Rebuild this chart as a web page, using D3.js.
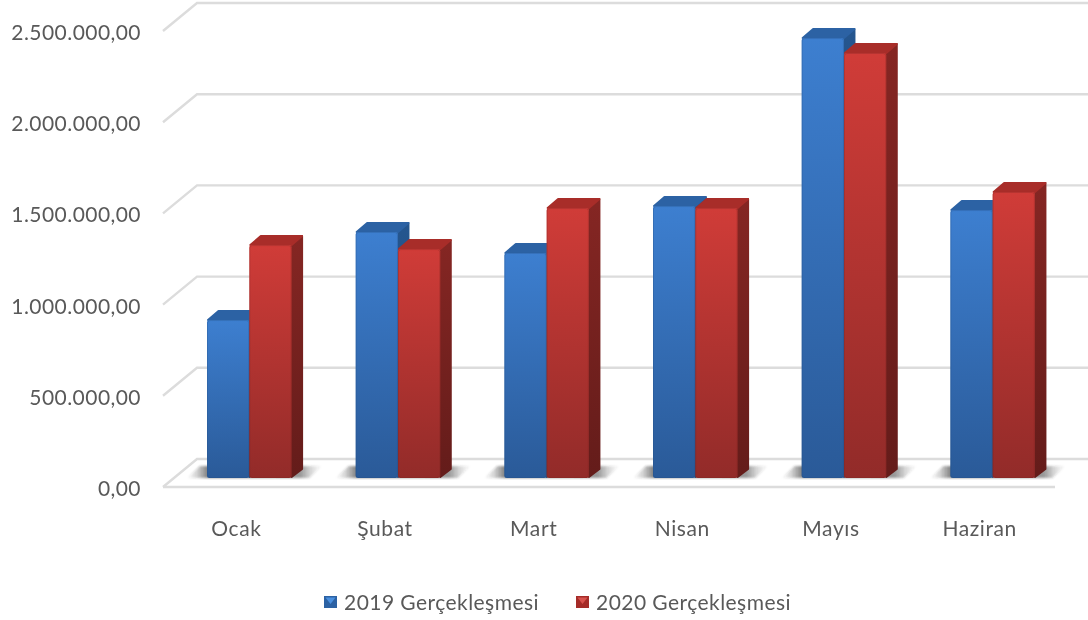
<!DOCTYPE html>
<html><head><meta charset="utf-8">
<script src="https://cdn.jsdelivr.net/npm/d3@7"></script>
<style>html,body{margin:0;padding:0;background:#fff}svg{display:block;filter:blur(.5px)}text{font-family:Lato,"Open Sans",sans-serif;fill:#595959}</style>
</head><body><svg id="c" width="1088" height="620"></svg>
<script>
const categories = ["Ocak","Şubat","Mart","Nisan","Mayıs","Haziran"];
const seriesNames = ["2019 Gerçekleşmesi","2020 Gerçekleşmesi"];
const values2019 = [866000,1349000,1234000,1491000,2412000,1469000];
const values2020 = [1277000,1255000,1480000,1480000,2330000,1568000];
const yTicks = [0,500000,1000000,1500000,2000000,2500000];

const svg = d3.select("#c");
const floorX0=163, floorX1=1055, y0=487, y1=31, depthX=34, depthY=28;
const barOffset=44, barDY=9, sideX=10.5, sideY=9, barW=42.3;
const x = d3.scaleBand().domain(categories).range([floorX0,floorX1]);
const y = d3.scaleLinear().domain([0,2500000]).range([y0,y1]);
const tr = d3.formatLocale({decimal:",",thousands:".",grouping:[3],currency:["","₺"]});

const defs = svg.append("defs");
function grad(id,c0,c1){
  const g=defs.append("linearGradient").attr("id",id).attr("x1",0).attr("y1",0).attr("x2",0).attr("y2",1);
  g.append("stop").attr("offset",0).attr("stop-color",c0);
  g.append("stop").attr("offset",1).attr("stop-color",c1);
}
grad("f0","#3d7fd0","#2a5a98"); grad("s0","#25568f","#1d4573");
grad("f1","#d03c38","#922b29"); grad("s1","#852623","#641c1a");
const sh=defs.append("linearGradient").attr("id","shadow");
[[0,0],[.07,.2],[.16,.65],[.84,.5],[.92,.18],[1,0]].forEach(([o,a])=>sh.append("stop").attr("offset",o).attr("stop-color","#333").attr("stop-opacity",a));
const fb=defs.append("filter").attr("id","soft").attr("x","-10%").attr("y","-30%").attr("width","120%").attr("height","160%");
fb.append("feGaussianBlur").attr("stdDeviation",1);

// walls and floor gridlines
const grid = svg.append("g").attr("fill","none").attr("stroke","#dcdcdc").attr("stroke-width",2.4);
yTicks.forEach(t=>{
  const p=y(t);
  grid.append("path").attr("d",`M${floorX0},${p}L${floorX0+depthX},${p-depthY}L1088,${p-depthY}`);
});
grid.append("path").attr("d",`M${floorX0},${y0}L${floorX1},${y0}`);

// value axis
const yAxis = d3.axisLeft(y).tickValues(yTicks).tickSize(0).tickPadding(0).tickFormat(tr.format(",.2f"));
const ga = svg.append("g").attr("transform","translate(141,0)").call(yAxis);
ga.select(".domain").remove();
ga.selectAll("text").style("font-size","21px").style("letter-spacing","0.45px").attr("dy","8.5px");

// category axis
const xAxis = d3.axisBottom(x).tickSize(0).tickPadding(0);
const gx = svg.append("g").attr("transform","translate(-1,521)").call(xAxis);
gx.select(".domain").remove();
gx.selectAll("text").style("font-size","21px").style("letter-spacing","0.6px").attr("dy","0.71em");

// shadows
const base = y(0)-barDY;
svg.append("g").selectAll("path").data(categories).join("path")
  .attr("filter","url(#soft)").attr("fill","url(#shadow)")
  .attr("d",c=>`M${x(c)+24},${base}L${x(c)+37},${base-12}L${x(c)+159},${base-12}L${x(c)+146},${base}Z`);

// bars
const groups = svg.append("g").selectAll("g").data(categories).join("g");
groups.each(function(c,i){
  const g=d3.select(this);
  [values2019[i],values2020[i]].forEach((v,s)=>{
    const bx=x(c)+barOffset+s*barW, top=y(v)-barDY, r=barW;
    const b=g.append("g").attr("stroke-linejoin","round").attr("stroke-width",2);
    const topCol=s?"#a82d29":"#2c62a4", edge=s?"#7c2422":"#234f86";
    b.append("path").attr("fill",`url(#s${s})`).attr("stroke",`url(#s${s})`)
      .attr("d",`M${bx+r},${top}L${bx+r+sideX},${top-sideY}L${bx+r+sideX},${base-sideY}L${bx+r},${base-1}Z`);
    b.append("path").attr("fill",topCol).attr("stroke",topCol)
      .attr("d",`M${bx+1},${top}L${bx+sideX+1},${top-sideY}L${bx+r+sideX},${top-sideY}L${bx+r},${top}Z`);
    b.append("rect").attr("x",bx).attr("y",top).attr("width",r).attr("height",base-top)
      .attr("rx",2.5).attr("fill",`url(#f${s})`);
    b.append("rect").attr("x",bx+.5).attr("y",top+.5).attr("width",r-1).attr("height",base-top-1)
      .attr("rx",2.5).attr("fill","none").attr("stroke",edge).attr("stroke-opacity",.3).attr("stroke-width",1);
  });
});

// legend
const lx=[324,576];
seriesNames.forEach((n,s)=>{
  const L=svg.append("g").attr("transform",`translate(${lx[s]},596)`);
  L.append("rect").attr("width",13).attr("height",12).attr("fill",s?"#a52c28":"#2c62a4");
  L.append("path").attr("d","M1.5,1.5H11.5L6.5,8Z").attr("fill",s?"#d8534e":"#4a90e0");
  L.append("text").attr("x",20).attr("y",14).style("font-size","21px").style("letter-spacing","0.45px").text(n);
});
</script></body></html>
